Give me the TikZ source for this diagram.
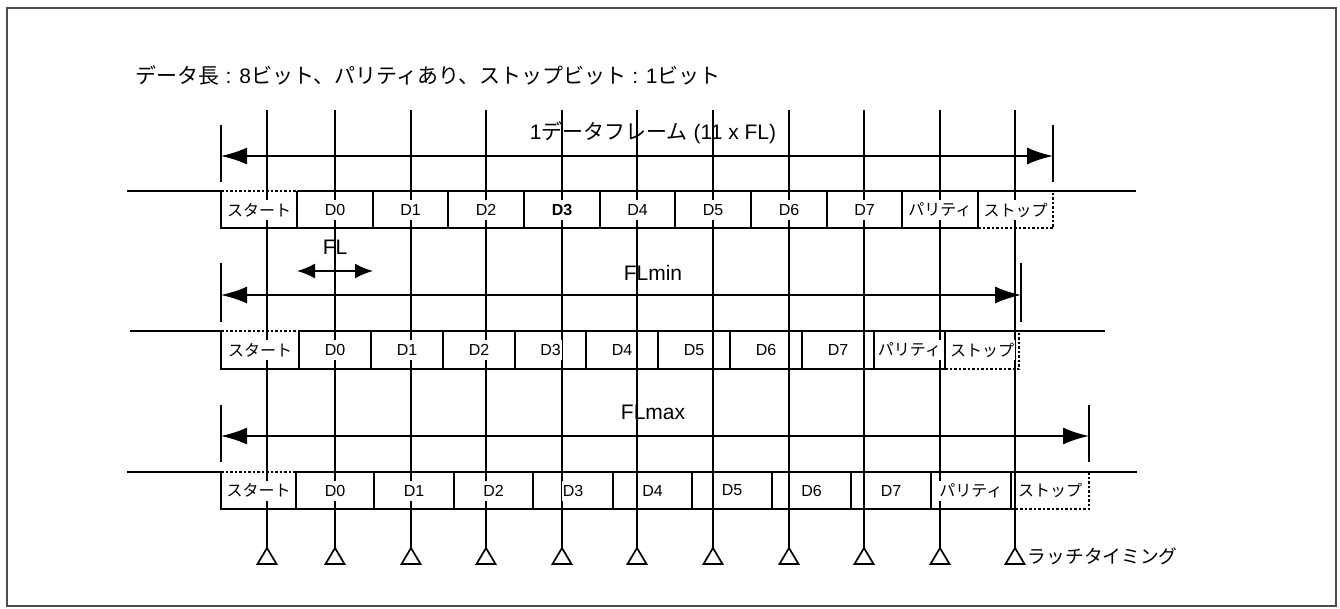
\documentclass[tikz,border=0pt]{standalone}
\usepackage{fontspec}
\setmainfont{Liberation Sans}
\newfontfamily\jp{Noto Sans CJK JP}
\usetikzlibrary{arrows.meta}
% #1 name, #2 top, #3 bottom, #4 label y, #5 left of start box, #6 line start, #7 line end,
% #8 cell pairs a/b for start..stop (11 cells), #9 bold index
\newcommand\bitrow[9]{%
  \foreach \a/\b [count=\n from 0] in {#8} {
    \ifnum\n=0
      \draw (#6,#2) -- (\a,#2);
      \draw[dots] (\a,#2) -- (\b,#2);
      \draw (\a,#2) -- (\a,#3) -- (\b,#3) -- (\b,#2);
      \node[jlbl] (#1c\n) at ({(\a+\b)/2},#4) {スタート};
    \else\ifnum\n=10
      \draw (\a,#2) -- (#7,#2);
      \draw[dots] (\a,#3) -- (\b,#3) -- (\b,#2);
      \node[jlbl] (#1c\n) at ({(\a+\b)/2},#4) {ストップ};
    \else
      \draw (\a,#2) -- (\b,#2);
      \draw (\a,#3) -- (\b,#3) -- (\b,#2);
      \ifnum\n=9
        \node[jlbl] (#1c\n) at ({(\a+\b)/2},#4) {パリティ};
      \else
        \pgfmathtruncatemacro\d{\n-1}
        \node[lbl] (#1c\n) at ({(\a+\b)/2},#4) {\ifnum\d=#9 \bfseries\fi D\d};
      \fi
    \fi\fi
  }
}
\begin{document}
\begin{tikzpicture}[x=1pt,y=-1pt,line width=1.8pt,
  lbl/.style={fill=white,inner sep=1pt,minimum height=20pt,font=\fontsize{16}{18}\selectfont},
  jlbl/.style={fill=white,inner sep=1pt,minimum height=20pt,font=\jp\fontsize{16}{18}\selectfont},
  big/.style={font=\fontsize{21}{24}\selectfont},
  dimarrow/.style={{Latex[length=26pt,width=17pt]}-{Latex[length=26pt,width=17pt]}},
  smallarrow/.style={{Latex[length=18pt,width=15pt]}-{Latex[length=18pt,width=15pt]}},
  dots/.style={dash pattern=on 2.5pt off 2pt},
  latchline/.style={line width=1.8pt}]
\useasboundingbox (0,0) rectangle (1340,608);
\draw[line width=1.4pt,black!70] (7,8) rectangle (1336,606);

% header
\node[anchor=west,inner sep=0pt,font=\fontsize{21}{24}\selectfont] (hdr) at (135,75)
  {{\jp データ長} : 8{\jp ビット、パリティあり、ストップビット} : 1{\jp ビット}};

% latch lines and triangles
\foreach \x [count=\n from 0] in {267,335,411,486,562,637,713,789,864,940,1015} {
  \coordinate (lt\n) at (\x,110);
  \coordinate (lb\n) at (\x,548);
  \draw[latchline] (lt\n) -- (lb\n);
  \draw[line width=1.7pt] (lb\n) -- ++(-9.5,16) -- ++(19,0) -- cycle;
}

% title and dimension arrows
\node[big] (ttl) at (653,133) {1{\jp データフレーム} (11 x FL)};
\coordinate (a1l) at (221,156); \coordinate (a1r) at (1053,156);
\draw (221,125) -- (221,182);
\draw (1053,125) -- (1053,182);
\draw[dimarrow] (a1l) -- (a1r);

\node[big] (fl) at (335,247) {FL};
\coordinate (fll) at (297,271); \coordinate (flr) at (373,271);
\draw[smallarrow] (fll) -- (flr);

\node[big] (flmin) at (653,273) {FLmin};
\coordinate (a2l) at (221,295); \coordinate (a2r) at (1021,295);
\draw (221,263) -- (221,322);
\draw (1021,263) -- (1021,322);
\draw[dimarrow] (a2l) -- (a2r);

\node[big] (flmax) at (653,412) {FLmax};
\coordinate (a3l) at (221,436); \coordinate (a3r) at (1089,436);
\draw (221,405) -- (221,462);
\draw (1089,405) -- (1089,462);
\draw[dimarrow] (a3l) -- (a3r);

% rows
\bitrow{ra}{191}{228}{210}{221}{127}{1136}
  {221/297,297/373,373/448,448/524,524/600,600/675,675/751,751/827,827/902,902/978,978/1053}{3}
\bitrow{rb}{331}{369}{350}{221}{130}{1105}
  {221/299,299/371,371/443,443/515,515/586,586/658,658/730,730/802,802/874,874/945,945/1019}{-1}
\bitrow{rc}{472}{509}{490.5}{221}{127}{1137}
  {221/296,296/374,374/454,454/533,533/613,613/692,692/772,772/851,851/931,931/1011,1011/1089}{-1}

\node[anchor=west,inner sep=0pt,font=\jp\fontsize{18.7}{21}\selectfont] (latch) at (1027,556) {ラッチタイミング};
\end{tikzpicture}
\end{document}
